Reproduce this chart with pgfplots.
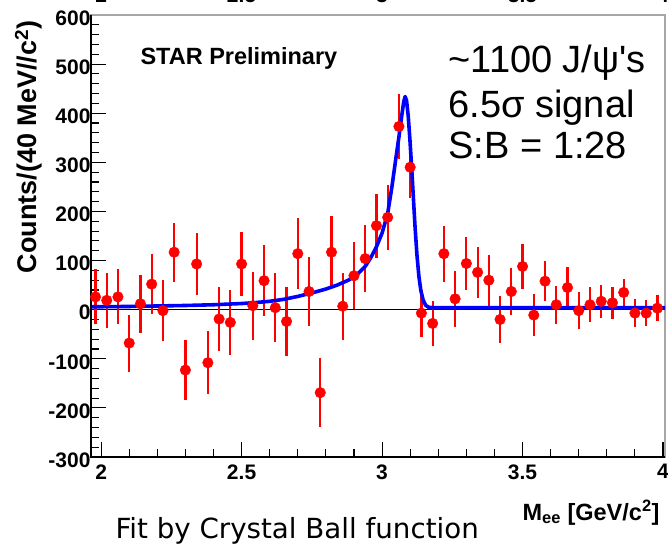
\documentclass[border=0pt]{standalone}
\usepackage{pgfplots}
\pgfplotsset{compat=1.18}
\usepackage{pgfplotstable}
\usepackage{fontspec}
\setmainfont{Liberation Sans}
\newfontfamily\fitfont{DejaVu Sans}

% Background-subtracted di-electron yield, 40 MeV bins
\pgfplotstableread{
x     y     ey
1.98  26    56
2.02  19    56
2.06  26    56
2.10  -68   58
2.14  12    59
2.18  52    61
2.22  -2    62
2.26  117   60
2.30  -123  61
2.34  93    63
2.38  -108  64
2.42  -19   66
2.46  -26   66
2.50  93    65
2.54  8     69
2.58  59    72
2.62  4     70
2.66  -24   71
2.70  114   72
2.74  37    71
2.78  -169  70
2.82  117   73
2.86  7     68
2.90  69    68
2.94  104   68
2.98  171   65
3.02  188   66
3.06  373   66
3.10  290   63
3.14  -7    48
3.18  -28   45
3.22  114   57
3.26  22    57
3.30  94    53
3.34  76    52
3.38  60    52
3.42  -20   48
3.46  37    48
3.50  88    46
3.54  -11   42
3.58  58    41
3.62  10    39
3.66  45    41
3.70  -2    37
3.74  10    36
3.78  17    33
3.82  14    33
3.86  35    28
3.90  -7    29
3.94  -7    27
3.98  3     27
}\jpsidata

% Crystal Ball fit curve
\pgfplotstableread{
x      y
1.964  6
2.00   6
2.10   6.5
2.20   7.5
2.30   8.5
2.40   10
2.50   12.5
2.55   14.5
2.60   17
2.65   21
2.70   27
2.75   34
2.80   42
2.84   50
2.88   60
2.91   71
2.94   88
2.96   106
2.98   128
3.00   156
3.02   196
3.035  250
3.05   312
3.06   352
3.07   395
3.077  423
3.082  434
3.087  426
3.093  395
3.099  347
3.105  292
3.111  232
3.117  172
3.124  112
3.131  68
3.138  39
3.146  20
3.155  9
3.165  5
3.18   4
4.007  4
}\cbfit

\begin{document}
\begin{tikzpicture}
\clip (-91bp,-88bp) rectangle (577bp,457bp);
\begin{axis}[
  scale only axis, width=574bp, height=442bp,
  xmin=1.964, xmax=4.007, ymin=-300, ymax=600,
  clip=false,
  xtick={2,2.5,3,3.5,4}, xticklabels={2,2.5,3,3.5,4},
  ytick={-300,-200,...,600},
  yticklabels={-300,-200,-100,0,100,200,300,400,500,600},
  minor x tick num=4, minor y tick num=4,
  xtick pos=bottom, ytick pos=left,
  tick align=inside,
  major tick length=15bp, minor tick length=8bp,
  tick style={black, line width=1.1bp},
  axis line style={draw=gray!70, line width=1.2bp},
  /pgf/number format/assume math mode=true,
  ticklabel style={font=\bfseries\fontsize{21bp}{21bp}\selectfont},
  xticklabel style={yshift=-4bp},
  yticklabel style={xshift=3bp, yshift=-3bp},
]
% zero line
\addplot[black, line width=1.4bp] coordinates {(1.964,0) (4.007,0)};
% data with statistical errors
\addplot[only marks, mark=*, mark size=5.3bp, red, mark options={fill=red, draw=red},
  error bars/.cd, y dir=both, y explicit, error mark=none,
  error bar style={red, line width=2.2bp}]
  table[x=x, y=y, y error=ey] {\jpsidata};
% fit
\addplot[blue, line width=3.6bp, line join=round] table[x=x, y=y] {\cbfit};
% left and bottom frame in black
\draw[black, line width=1.6bp] (rel axis cs:0,1) -- (rel axis cs:0,0) -- (rel axis cs:1,0);
% tick labels of the panel above
\node[anchor=base, font=\bfseries\fontsize{21bp}{21bp}\selectfont] at (axis cs:2,625) {2};
\node[anchor=base, font=\bfseries\fontsize{21bp}{21bp}\selectfont] at (axis cs:2.5,625) {2.5};
\node[anchor=base, font=\bfseries\fontsize{21bp}{21bp}\selectfont] at (axis cs:3,625) {3};
\node[anchor=base, font=\bfseries\fontsize{21bp}{21bp}\selectfont] at (axis cs:3.5,625) {3.5};
\node[anchor=base, font=\bfseries\fontsize{21bp}{21bp}\selectfont] at (axis cs:4,625) {4};
\end{axis}

\node[anchor=base west, font=\bfseries\fontsize{23.5bp}{23.5bp}\selectfont] at (46bp,392bp) {STAR Preliminary};
\node[anchor=base west, font=\fontsize{38bp}{38bp}\selectfont] at (354bp,384bp) {\textasciitilde1100 J/ψ\textquotesingle s};
\node[anchor=base west, font=\fontsize{38bp}{38bp}\selectfont] at (354bp,339bp) {6.5σ signal};
\node[anchor=base west, font=\fontsize{38bp}{38bp}\selectfont] at (354bp,298bp) {S:B = 1:28};

\node[rotate=90, anchor=base east, font=\bfseries\fontsize{27bp}{27bp}\selectfont] at (-54bp,440bp) {Counts/(40 MeV//c\textsuperscript{2})};
\node[anchor=base east, font=\bfseries\fontsize{23.5bp}{23.5bp}\selectfont] at (572bp,-63bp) {M\textsubscript{ee} [GeV/c\textsuperscript{2}]};
\node[anchor=base west, font=\fitfont\fontsize{27.7bp}{27.7bp}\selectfont] at (21bp,-81bp) {Fit by Crystal Ball function};
\end{tikzpicture}
\end{document}
